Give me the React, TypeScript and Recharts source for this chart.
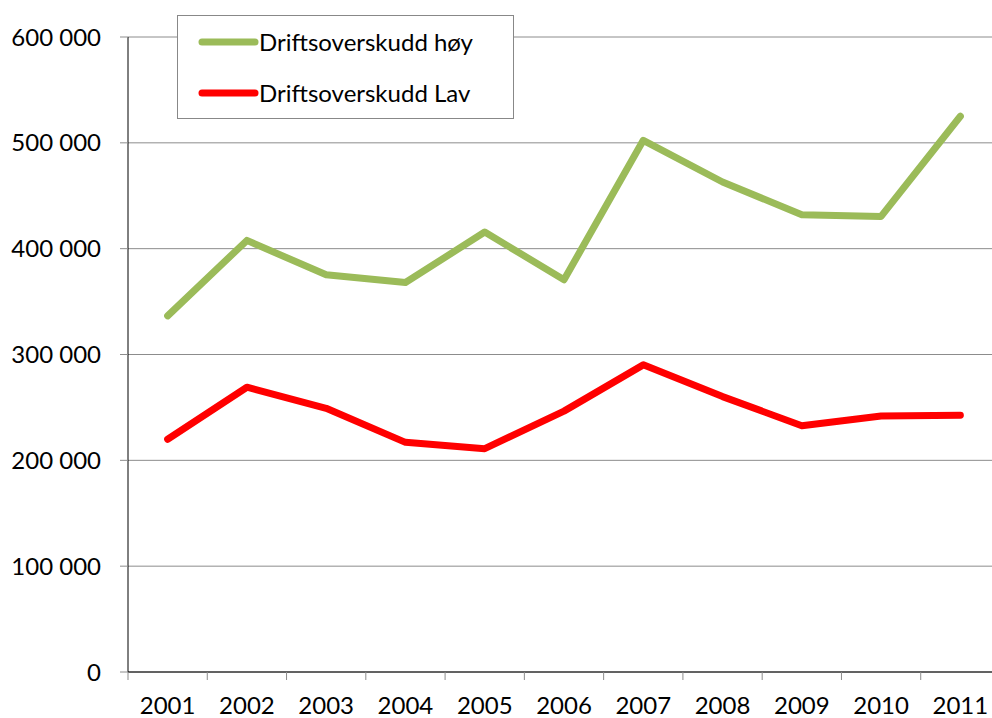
import { LineChart, Line, XAxis, YAxis, CartesianGrid, Legend } from 'recharts'

const years = ['2001', '2002', '2003', '2004', '2005', '2006', '2007', '2008', '2009', '2010', '2011']
const hoy = [336500, 407800, 375300, 368000, 415700, 370600, 502400, 463000, 432100, 430500, 525100]
const lav = [219900, 269100, 249200, 217000, 211000, 246500, 290200, 260200, 232700, 241900, 242600]
const yTicks = [0, 100000, 200000, 300000, 400000, 500000, 600000]

const data = years.map((year, i) => ({ year, hoy: hoy[i], lav: lav[i] }))

const FONT = 'Lato, "Noto Sans", sans-serif'
const GRID = '#8c8c8c'

const fmt = (n: number) => String(n).replace(/\B(?=(\d{3})+(?!\d))/g, ' ')

// Excel-style category axis: tick marks sit between the years, labels in the middle
function YearTick(props: any) {
  const { x, y, payload } = props
  const half = payload?.offset ?? 872 / 22
  const axisY = y - 25
  return (
    <g>
      <line x1={x - half} y1={axisY} x2={x - half} y2={axisY + 8} stroke={GRID} />
      <text x={x} y={y} dy="0.71em" textAnchor="middle" fill="#000" fontSize={24} fontFamily={FONT}>
        {payload.value}
      </text>
    </g>
  )
}

function LegendBox(props: any) {
  const items = props.payload || []
  return (
    <div
      style={{
        width: 337,
        height: 104,
        boxSizing: 'border-box',
        border: '1px solid #888',
        background: '#fff',
        fontFamily: FONT,
        fontSize: 24,
        color: '#000',
      }}
    >
      {items.map((it: any) => (
        <div key={it.value} style={{ height: 51, display: 'flex', alignItems: 'center', paddingLeft: 19 }}>
          <svg width={62} height={10} style={{ display: 'block' }}>
            <line x1={5} y1={5} x2={58} y2={5} stroke={it.color} strokeWidth={7} strokeLinecap="round" />
          </svg>
          <span style={{ lineHeight: 1 }}>{it.value}</span>
        </div>
      ))}
    </div>
  )
}

export default function App() {
  return (
    <div style={{ position: 'absolute', left: 0, top: 0, width: 992, height: 718, overflow: 'hidden', background: '#fff' }}>
      <LineChart width={1000} height={718} data={data} margin={{ top: 37, right: 0, bottom: 0, left: 0 }}>
        <CartesianGrid vertical={false} stroke={GRID} />
        <XAxis
          dataKey="year"
          scale="band"
          height={46}
          stroke="#000"
          tickLine={false}
          tickSize={8}
          tickMargin={17}
          tick={<YearTick />}
          interval={0}
        />
        <YAxis
          width={128}
          domain={[0, 600000]}
          ticks={yTicks}
          tickFormatter={fmt}
          stroke="#000"
          tickLine={{ stroke: GRID }}
          tickSize={8}
          tickMargin={19}
          tick={{ fill: '#000', fontSize: 24, fontFamily: FONT }}
        />
        <Legend
          layout="vertical"
          align="center"
          verticalAlign="middle"
          itemSorter="dataKey"
          wrapperStyle={{ left: 177, top: 15, width: 337, height: 104 }}
          content={<LegendBox />}
        />
        <Line
          dataKey="hoy"
          name="Driftsoverskudd høy"
          stroke="#9bbb59"
          strokeWidth={7}
          strokeLinecap="round"
          strokeLinejoin="round"
          dot={false}
          activeDot={false}
          isAnimationActive={false}
        />
        <Line
          dataKey="lav"
          name="Driftsoverskudd Lav"
          stroke="#ff0000"
          strokeWidth={7}
          strokeLinecap="round"
          strokeLinejoin="round"
          dot={false}
          activeDot={false}
          isAnimationActive={false}
        />
      </LineChart>
    </div>
  )
}
